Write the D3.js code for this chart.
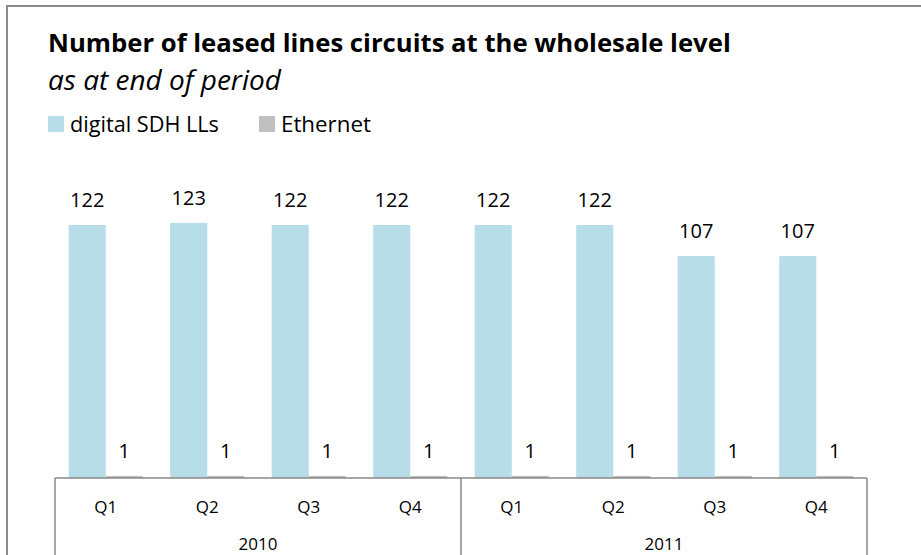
<!DOCTYPE html>
<html>
<head>
<meta charset="utf-8">
<script src="https://cdn.jsdelivr.net/npm/d3@7"></script>
<style>
  body { margin: 0; background: #fff; }
  text { font-family: "Open Sans", "Noto Sans", sans-serif; fill: #000; }
</style>
</head>
<body>
<div id="vis"></div>
<script>
// Data
var quarters = ["Q1", "Q2", "Q3", "Q4", "Q1", "Q2", "Q3", "Q4"];
var years = ["2010", "2011"];
var sdh = [122, 123, 122, 122, 122, 122, 107, 107];
var ethernet = [1, 1, 1, 1, 1, 1, 1, 1];
var seriesNames = ["digital SDH LLs", "Ethernet"];
var seriesColors = ["#b7dde8", "#bfbfbf"];

// Layout Settings
var width = 921, height = 555;
var margin = {left: 55, right: 54, base: 478};

var svg = d3.select("#vis")
	.append("svg")
	.attr("width", width)
	.attr("height", height);

// outer frame (runs off the right/bottom edges)
svg.append("path")
	.attr("d", "M7," + height + "V6H" + width)
	.attr("fill", "none")
	.attr("stroke", "#8c8c8c")
	.attr("stroke-width", 2);

// shrink/grow a text so it spans w pixels
function fit(sel, w) {
	var len = sel.node().getComputedTextLength();
	var fs = parseFloat(sel.attr("font-size"));
	sel.attr("font-size", fs * w / len);
}

// title
svg.append("text")
	.attr("x", 48).attr("y", 52)
	.attr("font-size", 24)
	.attr("font-weight", "bold")
	.text("Number of leased lines circuits at the wholesale level")
	.call(fit, 683);

svg.append("text")
	.attr("x", 48).attr("y", 90)
	.attr("font-size", 24)
	.attr("font-style", "italic")
	.text("as at end of period")
	.call(fit, 233);

// legend
var legendX = [48, 259];
var legend = svg.selectAll(".legend")
	.data(seriesNames)
	.enter().append("g")
	.attr("class", "legend")
	.attr("transform", function(d, i) { return "translate(" + legendX[i] + ",116)"; });

legend.append("rect")
	.attr("width", 16).attr("height", 16)
	.attr("fill", function(d, i) { return seriesColors[i]; });

legend.append("text")
	.attr("x", 22).attr("y", 16)
	.attr("font-size", 19)
	.text(function(d) { return d; })
	.each(function(d, i) { d3.select(this).call(fit, [149, 90][i]); });

// scales
var keys = quarters.map(function(q, i) { return years[Math.floor(i / 4)] + " " + q; });

var x0 = d3.scaleBand()
	.domain(keys)
	.range([margin.left, width - margin.right])
	.paddingInner(0.27)
	.paddingOuter(0.135);

var x1 = d3.scaleBand()
	.domain(seriesNames)
	.range([0, x0.bandwidth()]);

var y = d3.scaleLinear()
	.domain([0, 140])
	.range([margin.base, margin.base - 140 * 2.074]);

var rows = keys.map(function(k, i) {
	return {key: k, values: [sdh[i], ethernet[i]]};
});

var group = svg.selectAll(".cat")
	.data(rows)
	.enter().append("g")
	.attr("class", "cat")
	.attr("transform", function(d) { return "translate(" + x0(d.key) + ",0)"; });

var bar = group.selectAll(".bar")
	.data(function(d) { return d.values.map(function(v, i) { return {s: seriesNames[i], v: v, i: i}; }); })
	.enter();

bar.append("rect")
	.attr("class", "bar")
	.attr("x", function(d) { return x1(d.s); })
	.attr("y", function(d) { return y(d.v); })
	.attr("width", x1.bandwidth())
	.attr("height", function(d) { return y(0) - y(d.v); })
	.attr("fill", function(d) { return seriesColors[d.i]; });

bar.append("text")
	.attr("x", function(d) { return x1(d.s) + x1.bandwidth() / 2; })
	.attr("y", function(d) { return y(d.v) - 18; })
	.attr("text-anchor", "middle")
	.attr("font-size", 20)
	.text(function(d) { return d.v; });

// category axis box
var axis = svg.append("g").attr("class", "axis")
	.attr("stroke", "#888")
	.attr("stroke-width", 1.5);

var x0r = x0.range();
axis.append("line")
	.attr("x1", x0r[0]).attr("x2", x0r[1])
	.attr("y1", margin.base).attr("y2", margin.base);

var dividers = [x0r[0], (x0r[0] + x0r[1]) / 2, x0r[1]];
axis.selectAll(".div")
	.data(dividers)
	.enter().append("line")
	.attr("x1", function(d) { return d; }).attr("x2", function(d) { return d; })
	.attr("y1", margin.base).attr("y2", height);

svg.selectAll(".qlab")
	.data(keys)
	.enter().append("text")
	.attr("class", "qlab")
	.attr("x", function(d) { return x0(d) + x0.bandwidth() / 2; })
	.attr("y", 513)
	.attr("text-anchor", "middle")
	.attr("font-size", 17)
	.text(function(d, i) { return quarters[i]; });

svg.selectAll(".ylab")
	.data(years)
	.enter().append("text")
	.attr("class", "ylab")
	.attr("x", function(d, i) { return (dividers[i] + dividers[i + 1]) / 2; })
	.attr("y", 550)
	.attr("text-anchor", "middle")
	.attr("font-size", 17)
	.text(function(d) { return d; });
</script>
</body>
</html>
